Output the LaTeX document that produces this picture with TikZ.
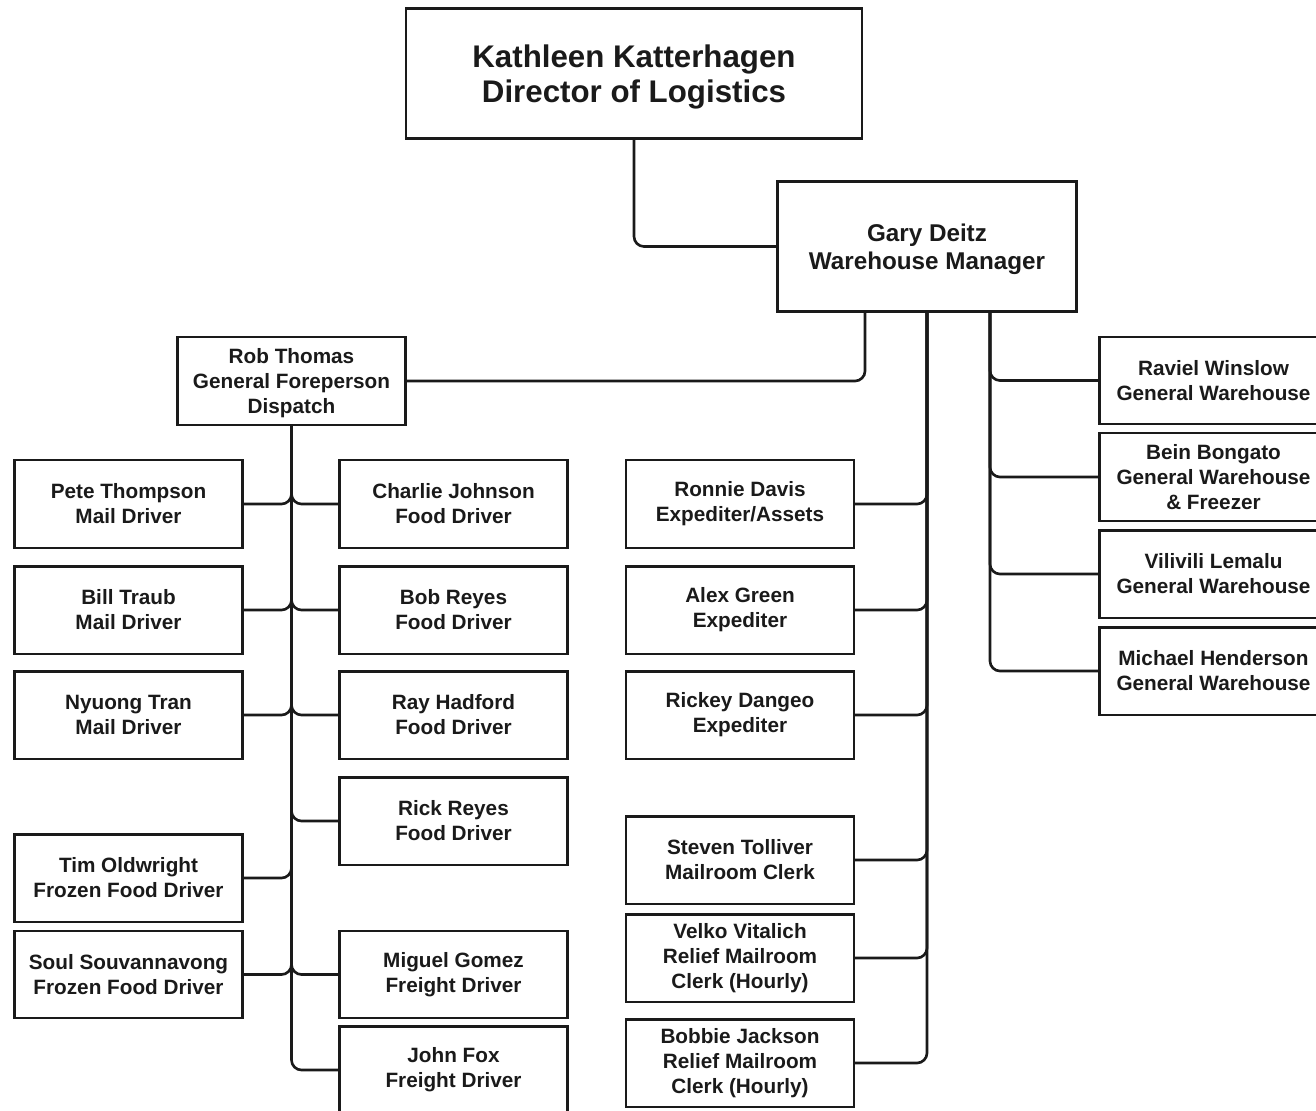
\documentclass[tikz,border=0pt]{standalone}
\usepackage{xcolor}
\definecolor{Ink}{HTML}{1A1A1A}
\colorlet{ink}{Ink}
\usepackage{fontspec}
\setsansfont{Liberation Sans}
\usepackage{tikz}
\usetikzlibrary{positioning}
\begin{document}
\begin{tikzpicture}[x=0.02cm,y=-0.02cm,every node/.style={font=\sffamily\bfseries\fontsize{11.8}{14.2}\selectfont,align=center,text=ink},
box/.style={draw=ink,line width=1.4pt,fill=white,minimum width=4.56cm,minimum height=1.75cm,inner sep=0pt},
link/.style={draw=ink,line width=1.5pt,rounded corners=0.2cm}]
\useasboundingbox (0,0) rectangle (1316,1110);
\clip (0,0) rectangle (1316,1110);
% top
\node[box,minimum width=9.12cm,minimum height=2.6cm,text depth=-2pt,font=\sffamily\bfseries\fontsize{17.8}{20}\selectfont] (kathleen) at (634,73.5) {Kathleen Katterhagen\\Director of Logistics};
\node[box,minimum width=5.98cm,minimum height=2.6cm,text depth=-4pt,font=\sffamily\bfseries\fontsize{13.8}{15.9}\selectfont] (gary) at (927,246.5) {Gary Deitz\\Warehouse Manager};
\node[box,text depth=-1pt] (rob) at (291.5,381) {Rob Thomas\\General Foreperson\\Dispatch};
% dispatch, left side
\node[box] (pete) at (128.5,504) {Pete Thompson\\Mail Driver};
\node[box] (bill) at (128.5,610) {Bill Traub\\Mail Driver};
\node[box] (nyuong) at (128.5,715) {Nyuong Tran\\Mail Driver};
\node[box] (tim) at (128.5,878) {Tim Oldwright\\Frozen Food Driver};
\node[box] (soul) at (128.5,974.5) {Soul Souvannavong\\Frozen Food Driver};
% dispatch, right side
\node[box] (charlie) at (453.5,504) {Charlie Johnson\\Food Driver};
\node[box] (bob) at (453.5,610) {Bob Reyes\\Food Driver};
\node[box] (ray) at (453.5,715) {Ray Hadford\\Food Driver};
\node[box] (rick) at (453.5,821) {Rick Reyes\\Food Driver};
\node[box] (miguel) at (453.5,974.5) {Miguel Gomez\\Freight Driver};
\node[box] (john) at (453.5,1070) {John Fox\\Freight Driver};
% expediters and mailroom
\node[box] (ronnie) at (740,504) {Ronnie Davis\\Expediter/Assets};
\node[box] (alex) at (740,610) {Alex Green\\Expediter};
\node[box] (rickey) at (740,715) {Rickey Dangeo\\Expediter};
\node[box] (steven) at (740,860) {Steven Tolliver\\Mailroom Clerk};
\node[box] (velko) at (740,958) {Velko Vitalich\\Relief Mailroom\\Clerk (Hourly)};
\node[box] (bobbie) at (740,1063) {Bobbie Jackson\\Relief Mailroom\\Clerk (Hourly)};
% warehouse
\node[box] (raviel) at (1213.5,380.5) {Raviel Winslow\\General Warehouse};
\node[box] (bein) at (1213.5,477) {Bein Bongato\\General Warehouse\\\& Freezer};
\node[box] (vilivili) at (1213.5,574) {Vilivili Lemalu\\General Warehouse};
\node[box] (michael) at (1213.5,671) {Michael Henderson\\General Warehouse};
% links
\draw[link] (kathleen.south) |- (gary.west);
\draw[link] ([xshift=-1.24cm]gary.south) |- (rob.east);
\foreach \n in {ronnie,alex,rickey,steven,velko,bobbie} \draw[link] (gary.south) |- (\n.east);
\foreach \n in {raviel,bein,vilivili,michael} \draw[link] ([xshift=1.26cm]gary.south) |- (\n.west);
\foreach \n in {pete,bill,nyuong,tim,soul} \draw[link] (rob.south) |- (\n.east);
\foreach \n in {charlie,bob,ray,rick,miguel,john} \draw[link] (rob.south) |- (\n.west);
\end{tikzpicture}
\end{document}
